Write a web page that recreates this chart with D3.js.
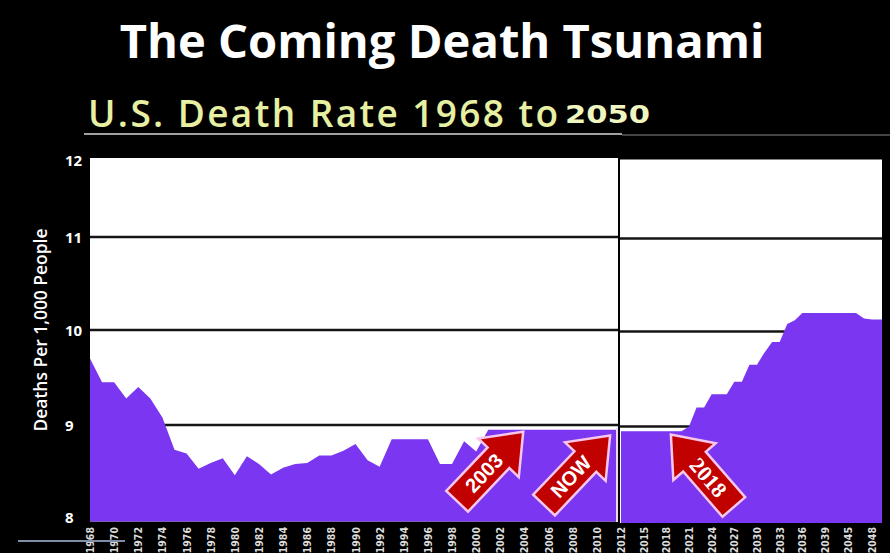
<!DOCTYPE html>
<html><head><meta charset="utf-8">
<script src="https://cdn.jsdelivr.net/npm/d3@7"></script>
<style>html,body{margin:0;padding:0;background:#000;overflow:hidden}svg{display:block}</style>
</head><body>
<script>
// ---------------- DATA ----------------
const titleText = "The Coming Death Tsunami";
const subtitleText = "U.S. Death Rate 1968 to";
const subtitleYear = "2050";
const yAxisTitle = "Deaths Per 1,000 People";

// Historical panel: one value per year, 1968..2012
const leftStartYear = 1968;
const leftValues = [9.70, 9.45, 9.45, 9.28, 9.40, 9.28, 9.08, 8.74, 8.70, 8.54,
                    8.60, 8.65, 8.47, 8.67, 8.59, 8.48, 8.55, 8.59, 8.60, 8.68,
                    8.68, 8.73, 8.80, 8.63, 8.56, 8.85, 8.85, 8.85, 8.85, 8.59,
                    8.59, 8.83, 8.72, 8.95, 8.95, 8.95, 8.95, 8.95, 8.95, 8.95,
                    8.95, 8.95, 8.95, 8.95, 8.95];
// Projection panel: one value per year, 2012..2050
const rightStartYear = 2012;
const rightValues = [8.95, 8.95, 8.95, 8.95, 8.95, 8.95, 8.95, 8.95, 8.95, 9.00,
                     9.20, 9.20, 9.34, 9.34, 9.34, 9.47, 9.47, 9.65, 9.65, 9.78,
                     9.89, 9.89, 10.08, 10.12, 10.20, 10.20, 10.20, 10.20, 10.20, 10.20,
                     10.20, 10.20, 10.20, 10.20, 10.20, 10.14, 10.13, 10.13, 10.13];

const leftTickLabels = ["1968","1970","1972","1974","1976","1978","1980","1982","1984","1986","1988",
                        "1990","1992","1994","1996","1998","2000","2002","2004","2006","2008","2010"];
const rightTickLabels = ["2012","2015","2018","2021","2024","2027","2030","2033","2036","2039","2045","2048"];
const yTickValues = [8, 9, 10, 11, 12];
const gridValues = [9, 10, 11];

const arrowLabels = ["2003", "NOW", "2018"];
const arrowYears = [2003.9, 2011.1, 2018.6];
const arrowValues = [8.93, 8.89, 8.90];

// ---------------- CHART ----------------
const W = 890, H = 553;
const svg = d3.select("body").append("svg").attr("width", W).attr("height", H);
svg.append("rect").attr("width", W).attr("height", H).attr("fill", "#000");

const x = d3.scaleLinear().domain([1968, 2012, 2039, 2045, 2050]).range([90, 621, 825, 848, 888]);
const y = d3.scaleLinear().domain([8, 9, 10, 11, 12]).range([520, 425, 330, 237, 158]);

const PURPLE = "#7a36f0";
const panels = [
  {id: "pl", x0: 90, x1: 618, dy: 0,
   data: leftValues.map((v, i) => ({year: leftStartYear + i, value: v}))},
  {id: "pr", x0: 620, x1: 882, dy: 1.5,
   data: rightValues.map((v, i) => ({year: rightStartYear + i, value: v}))}
];

function fitWidth(sel, w) {
  const fs = +sel.attr("font-size");
  const len = sel.node().getComputedTextLength();
  if (len > 0) sel.attr("font-size", fs * w / len);
}

const defs = svg.append("defs");
panels.forEach(p => {
  defs.append("clipPath").attr("id", "clip-" + p.id)
    .append("rect").attr("x", p.x0).attr("y", y(12)).attr("width", p.x1 - p.x0).attr("height", y(8) - y(12) + 1.5);
  const g = svg.append("g").attr("transform", `translate(0,${p.dy})`);
  g.append("rect").attr("x", p.x0).attr("y", y(12)).attr("width", p.x1 - p.x0)
    .attr("height", y(8) - y(12) + 1.5).attr("fill", "#fff");
  g.selectAll("line.grid").data(gridValues).join("line").attr("class", "grid")
    .attr("x1", p.x0).attr("x2", p.x1).attr("y1", d => y(d)).attr("y2", d => y(d))
    .attr("stroke", "#141414").attr("stroke-width", 2.5);
  const area = d3.area().x(d => x(d.year)).y0(y(8) + 2).y1(d => y(d.value)).curve(d3.curveLinear);
  g.append("path").datum(p.data).attr("d", area).attr("fill", PURPLE)
    .attr("clip-path", `url(#clip-${p.id})`);
});

// separator line between panels
svg.append("line").attr("x1", 617).attr("x2", 617).attr("y1", y(8.97)).attr("y2", y(8) + 2)
  .attr("stroke", "#f3d6f3").attr("stroke-width", 2);

// x tick labels
const xTicks = leftTickLabels.concat(rightTickLabels);
svg.selectAll("text.xt").data(xTicks).join("text").attr("class", "xt")
  .attr("transform", d => `translate(${x(+d)},527) rotate(-90)`)
  .attr("text-anchor", "end").attr("dominant-baseline", "central")
  .attr("font-family", "'DejaVu Sans Condensed','DejaVu Sans',sans-serif").attr("font-weight", "bold")
  .attr("font-size", 10.5).attr("fill", "#dcdcdc").text(d => d);

// y tick labels
svg.selectAll("text.yt").data(yTickValues).join("text").attr("class", "yt")
  .attr("x", 65).attr("y", d => y(d) + (d === 12 ? 2 : d === 8 ? -3 : 0))
  .attr("dominant-baseline", "central").attr("font-family", "'Open Sans',sans-serif")
  .attr("font-weight", 700).attr("font-size", 15).attr("fill", "#fff").text(d => d);

// y axis title
const yt = svg.append("text").attr("transform", "translate(40,330) rotate(-90)")
  .attr("text-anchor", "middle").attr("dominant-baseline", "central")
  .attr("font-family", "'Open Sans',sans-serif").attr("font-weight", 600)
  .attr("font-size", 16).attr("fill", "#fff").text(yAxisTitle);
fitWidth(yt, 203);

// title
const t = svg.append("text").attr("x", 442).attr("y", 58).attr("text-anchor", "middle")
  .attr("font-family", "'Open Sans',sans-serif").attr("font-weight", 700)
  .attr("font-size", 44).attr("fill", "#fff").text(titleText);
fitWidth(t, 645);

// subtitle
svg.append("text").attr("x", 88).attr("y", 127)
  .attr("font-family", "'Open Sans',sans-serif").attr("font-weight", 600)
  .attr("font-size", 37).attr("fill", "#e6efa2")
  .attr("textLength", 470).attr("lengthAdjust", "spacing").text(subtitleText);
svg.append("text").attr("x", 565).attr("y", 123)
  .attr("font-family", "'DejaVu Sans',sans-serif").attr("font-weight", "bold")
  .attr("font-size", 24).attr("fill", "#f0f6c0")
  .attr("textLength", 85).attr("lengthAdjust", "spacingAndGlyphs").text(subtitleYear);

// underline below subtitle
svg.append("line").attr("x1", 84).attr("x2", 622).attr("y1", 134).attr("y2", 134)
  .attr("stroke", "#a0a0a0").attr("stroke-width", 2);
svg.append("line").attr("x1", 622).attr("x2", 890).attr("y1", 135).attr("y2", 135)
  .attr("stroke", "#5a5a5a").attr("stroke-width", 1.5);

// video progress line at bottom-left
svg.append("line").attr("x1", 18).attr("x2", 125).attr("y1", 541).attr("y2", 541)
  .attr("stroke", "#7f8ea8").attr("stroke-width", 2);

// arrows
const arrowShape = [[0,0],[-36,-28],[-36,-15],[-96,-15],[-96,15],[-36,15],[-36,28]];
const arrowAngles = [-46.5, -46.5, -131];
arrowLabels.forEach((lab, i) => {
  const g = svg.append("g")
    .attr("transform", `translate(${x(arrowYears[i])},${y(arrowValues[i])}) rotate(${arrowAngles[i]})`);
  g.append("path").attr("d", d3.line()(arrowShape) + "Z")
    .attr("fill", "#c10000").attr("stroke", "#f7c6ea").attr("stroke-width", 2.5)
    .attr("stroke-linejoin", "miter");
  const flip = Math.abs(arrowAngles[i]) > 90;
  g.append("text").attr("transform", `translate(-57,0) rotate(${flip ? 180 : 0})`)
    .attr("text-anchor", "middle").attr("dominant-baseline", "central")
    .attr("font-family", flip ? "'Liberation Serif',serif" : "'Liberation Sans',Arial,sans-serif")
    .attr("font-weight", "bold").attr("font-size", flip ? 22 : 20).attr("fill", "#fff").text(lab);
});
</script>
</body></html>
